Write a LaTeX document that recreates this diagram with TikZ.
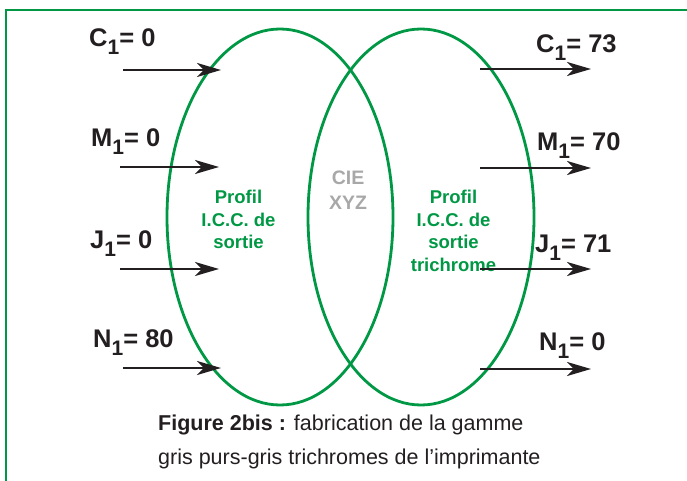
\documentclass[tikz,border=0pt]{standalone}
\usepackage{fontspec}
\setmainfont{Liberation Sans}
\usetikzlibrary{arrows.meta,shapes.geometric}
\definecolor{fgreen}{RGB}{0,152,68}
\definecolor{ink}{RGB}{35,31,32}
\definecolor{cgray}{RGB}{168,168,168}
\newcommand{\lab}[3]{\textbf{#1}\raisebox{-8pt}{\fontsize{21}{21}\selectfont\textbf{#2}}\textbf{= #3}}
\tikzset{
  frameline/.style={draw=fgreen, line width=2.6pt},
  oval/.style={draw=fgreen, line width=2.8pt, ellipse, inner sep=0pt, minimum width=226pt, minimum height=376pt},
  flow/.style={draw=ink, line width=2.7pt, -{Stealth[length=24pt,width=14pt,inset=7pt]}},
  val/.style={anchor=base west, inner sep=0pt, text=ink, font=\fontsize{25.5}{26}\selectfont},
  prof/.style={anchor=north, inner sep=0pt, align=center, text=fgreen, font=\fontsize{18.5}{22.5}\selectfont\bfseries},
  cie/.style={anchor=north, inner sep=0pt, align=center, text=cgray, font=\fontsize{19.5}{25}\selectfont\bfseries},
  captext/.style={anchor=base west, inner sep=0pt, text=ink, font=\fontsize{21.5}{22}\selectfont}
}
\begin{document}
\begin{tikzpicture}[x=1pt,y=-1pt]
\useasboundingbox (0,0) rectangle (687,481);
\draw[frameline] (6,481) -- (6,10) -- (687,10);
% ellipses
\node[oval] (left) at (280,217) {};
\node[oval] (right) at (421,217) {};
% texts inside
\node[prof] (pl) at (238.5,190) {Profil\\I.C.C. de\\sortie};
\node[cie] (cx) at (348,171) {CIE\\XYZ};
\node[prof] (pr) at (453.5,190) {Profil\\I.C.C. de\\sortie\\trichrome};
% left values
\node[val] (c0) at (89,47) {\lab{C}{1}{0}};
\node[val] (m0) at (91,147) {\lab{M}{1}{0}};
\node[val] (j0) at (90,248) {\lab{J}{1}{0}};
\node[val] (n0) at (93,347) {\lab{N}{1}{80}};
% right values
\node[val] (c1) at (536,53) {\lab{C}{1}{73}};
\node[val] (m1) at (537,150) {\lab{M}{1}{70}};
\node[val] (j1) at (535,252) {\lab{J}{1}{71}};
\node[val] (n1) at (539,350) {\lab{N}{1}{0}};
% arrow end points
\coordinate (a1s) at (123,70);  \coordinate (a1e) at (221,70);
\coordinate (a2s) at (120,167); \coordinate (a2e) at (219,167);
\coordinate (a3s) at (120,269); \coordinate (a3e) at (219,269);
\coordinate (a4s) at (123,368); \coordinate (a4e) at (221,368);
\coordinate (b1s) at (480,69);  \coordinate (b1e) at (591,69);
\coordinate (b2s) at (480,168); \coordinate (b2e) at (591,168);
\coordinate (b3s) at (480,269); \coordinate (b3e) at (591,269);
\coordinate (b4s) at (480,369); \coordinate (b4e) at (591,369);
\draw[flow] (a1s) -- (a1e);
\draw[flow] (a2s) -- (a2e);
\draw[flow] (a3s) -- (a3e);
\draw[flow] (a4s) -- (a4e);
\draw[flow] (b1s) -- (b1e);
\draw[flow] (b2s) -- (b2e);
\draw[flow] (b3s) -- (b3e);
\draw[flow] (b4s) -- (b4e);
% caption
\node[captext] (cap1) at (158,430) {\textbf{Figure 2bis :} fabrication de la gamme};
\node[captext] (cap2) at (158,464) {gris purs-gris trichromes de l’imprimante};
\end{tikzpicture}
\end{document}
